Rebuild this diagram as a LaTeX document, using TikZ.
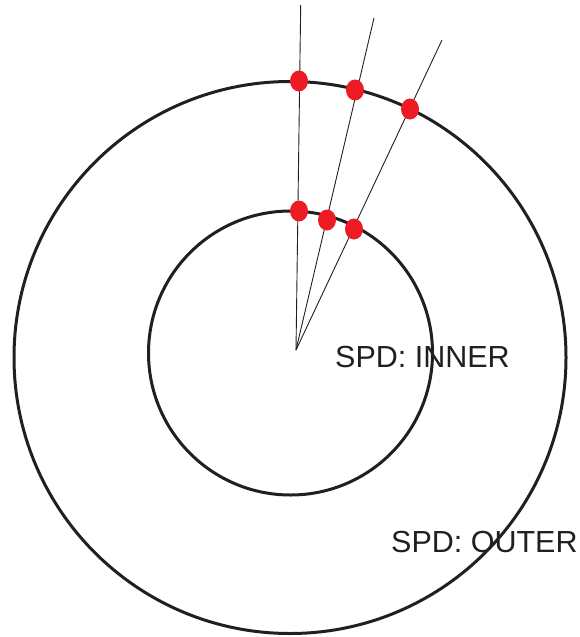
\documentclass[tikz,border=0pt]{standalone}
\usepackage{fontspec}
\setmainfont{Liberation Sans}
\usetikzlibrary{shapes.geometric}
\definecolor{dotred}{RGB}{237,28,36}
\definecolor{ink}{RGB}{35,31,32}
\begin{document}
\begin{tikzpicture}[x=1pt,y=-1pt,
  ring/.style={draw=ink,line width=3pt},
  ray/.style={draw=ink,line width=0.9pt},
  hit/.style={ellipse,fill=dotred,draw=none,minimum width=18pt,minimum height=21pt,inner sep=0pt},
  lbl/.style={font=\fontsize{30.5pt}{33pt}\selectfont,text=ink,inner sep=0pt,anchor=base west}]
\useasboundingbox (0,0) rectangle (579,637);
% circles
\node[ring,circle,minimum size=284pt,inner sep=0pt] (inner) at (290.5,353) {};
\node[ring,circle,minimum size=552pt,inner sep=0pt] (outer) at (290,357.5) {};
% rays
\coordinate (apex) at (296,350);
\coordinate (t1) at (300.7,5);
\coordinate (t2) at (374,18);
\coordinate (t3) at (442,40);
\draw[ray] (apex) -- (t1);
\draw[ray] (apex) -- (t2);
\draw[ray] (apex) -- (t3);
% intersection dots
\node[hit] (o1) at (299,81) {};
\node[hit] (o2) at (355,90) {};
\node[hit] (o3) at (410,109) {};
\node[hit] (i1) at (299,211) {};
\node[hit] (i2) at (327,220) {};
\node[hit] (i3) at (354,229) {};
% labels
\node[lbl] (linner) at (335,367) {SPD: INNER};
\node[lbl] (louter) at (391,552) {SPD: OUTER};
\end{tikzpicture}
\end{document}
